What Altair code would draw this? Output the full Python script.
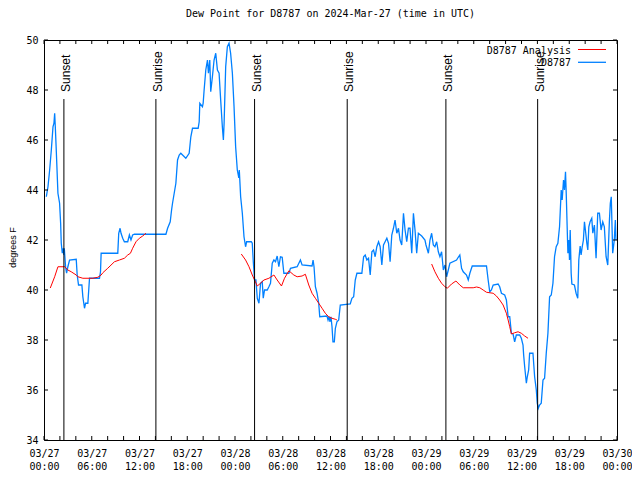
import altair as alt
import pandas as pd

MONO = "DejaVu Sans Mono"
SANS = "Liberation Sans"

# Observed dew point for D8787: hours since 2024-03-27 00:00 UTC, degrees F
obs_hours = [
    0.29, 0.5, 0.71, 0.92, 1.13, 1.25, 1.34, 1.42, 1.54, 1.75, 1.96, 2.09, 2.17, 2.3, 2.42, 2.5, 2.55, 2.71, 2.84, 3.0,
    3.21, 4.05, 4.17, 4.34, 4.76, 4.88, 5.09, 5.22, 5.51, 5.72, 6.97, 7.1, 7.18, 9.27, 9.39, 9.56, 9.68, 9.89, 10.1, 10.52,
    10.73, 10.93, 11.14, 11.36, 15.32, 15.53, 15.86, 16.03, 16.15, 16.57, 16.78, 16.99, 17.19, 17.82, 18.24, 18.45, 18.66, 19.37, 19.5, 19.58,
    19.91, 20.0, 20.12, 20.33, 20.54, 20.66, 20.83, 20.95, 21.16, 21.37, 21.58, 21.79, 22.0, 22.2, 22.41, 22.54, 22.63, 22.83, 23.04, 23.25,
    23.45, 23.67, 23.88, 24.08, 24.29, 24.48, 24.54, 24.71, 24.92, 25.13, 25.33, 25.46, 26.05, 26.17, 26.3, 26.46, 26.63, 26.8, 27.01, 27.21,
    27.42, 27.55, 27.71, 28.05, 28.26, 28.46, 28.68, 28.89, 29.09, 29.3, 29.51, 29.71, 29.93, 30.14, 30.77, 30.97, 31.81, 32.22, 32.43, 33.68,
    33.81, 33.93, 34.1, 34.31, 34.52, 34.65, 35.56, 35.69, 35.81, 35.94, 36.06, 36.19, 36.31, 36.48, 36.61, 36.81, 37.03, 37.23, 38.48, 38.69,
    38.91, 39.11, 39.32, 39.94, 40.16, 40.36, 40.57, 40.78, 40.99, 41.2, 41.41, 41.61, 41.82, 42.04, 42.24, 42.45, 42.66, 42.86, 43.08, 43.29,
    43.49, 43.7, 43.91, 44.11, 44.33, 44.54, 44.74, 44.95, 45.17, 45.37, 45.58, 45.79, 45.99, 46.21, 46.42, 46.62, 46.83, 47.04, 47.46, 47.87,
    48.0, 48.3, 48.5, 48.71, 48.92, 49.12, 49.34, 49.55, 49.75, 49.96, 50.18, 50.38, 50.59, 50.8, 51.0, 51.84, 52.05, 52.25, 52.47, 52.68,
    53.09, 53.31, 53.51, 53.81, 55.6, 55.81, 56.01, 56.22, 56.44, 57.06, 57.26, 57.48, 57.89, 58.1, 58.32, 58.52, 58.73, 58.94, 59.14, 59.35,
    59.77, 59.98, 60.19, 60.27, 60.4, 60.61, 60.73, 60.9, 61.02, 61.44, 61.65, 61.86, 61.98, 62.11, 62.27, 62.48, 62.7, 62.9, 63.11, 63.32,
    63.53, 63.74, 63.95, 64.15, 64.36, 64.57, 64.78, 64.99, 65.11, 65.28, 65.4, 65.53, 65.62, 65.83, 65.95, 66.03, 66.12, 66.24, 66.33, 66.65,
    66.86, 67.07, 67.2, 67.37, 67.49, 67.62, 67.78, 67.91, 68.03, 68.21, 68.33, 68.46, 68.62, 68.83, 68.96, 69.16, 69.37, 69.58, 69.79, 70.0,
    70.21, 70.41, 70.63, 70.84, 71.04, 71.16, 71.28, 71.46, 71.66, 71.79, 71.87,
]
obs_dewpoint = [
    43.73, 44.13, 44.8, 45.6, 46.53, 46.67, 47.07, 46.53, 45.6, 43.87, 43.47, 42.67, 41.87, 41.47, 41.67, 41.4, 41.67, 40.93, 40.67, 40.93,
    41.2, 41.23, 40.6, 40.2, 40.2, 39.73, 39.27, 39.47, 39.47, 40.47, 40.47, 40.73, 41.47, 41.47, 42.27, 42.47, 42.27, 42.07, 41.93, 41.93,
    42.2, 42.0, 42.2, 42.23, 42.23, 42.47, 42.73, 43.2, 43.47, 44.27, 45.2, 45.4, 45.47, 45.27, 45.47, 46.13, 46.47, 46.47, 46.73, 47.47,
    47.33, 47.47, 48.0, 48.8, 49.2, 48.67, 49.2, 47.93, 48.53, 49.2, 49.47, 48.8, 48.67, 47.6, 46.53, 46.0, 46.67, 48.93, 49.73, 49.87,
    49.47, 48.67, 47.33, 45.73, 44.8, 44.48, 44.8, 43.73, 43.07, 42.13, 41.73, 41.93, 41.93, 41.87, 41.13, 40.4, 40.4, 39.67, 39.47, 40.27,
    40.33, 39.67, 40.0, 40.0, 40.13, 40.27, 41.07, 41.2, 41.13, 41.36, 40.93, 41.33, 41.31, 40.67, 40.67, 40.87, 40.93, 41.2, 41.0, 40.96,
    41.2, 40.93, 40.13, 39.87, 39.47, 38.93, 38.96, 38.8, 38.93, 38.73, 38.93, 38.53, 37.93, 37.93, 38.47, 38.73, 38.8, 39.4, 39.44, 39.67,
    39.73, 40.4, 40.67, 40.67, 41.33, 41.4, 41.2, 41.27, 40.6, 41.53, 41.6, 41.33, 41.73, 41.93, 41.73, 41.0, 41.8, 41.93, 42.07, 41.87,
    41.13, 42.2, 42.47, 42.8, 42.27, 42.47, 42.0, 41.8, 43.07, 42.4, 41.93, 42.47, 42.47, 41.47, 43.07, 42.4, 41.47, 42.27, 42.16, 42.0,
    41.8, 41.47, 42.0, 42.27, 41.8, 41.73, 41.93, 41.53, 41.33, 41.53, 40.8, 41.0, 40.53, 40.8, 41.07, 41.2, 41.31, 41.4, 40.87, 40.73,
    40.6, 40.4, 40.67, 40.96, 40.96, 40.4, 39.93, 40.0, 40.2, 40.24, 40.13, 39.87, 39.8, 39.6, 38.93, 38.93, 38.27, 38.24, 37.93, 38.2,
    38.2, 38.07, 37.8, 37.4, 36.93, 36.27, 36.53, 36.8, 37.47, 37.47, 36.53, 36.0, 35.47, 35.27, 35.4, 35.47, 36.4, 36.47, 37.47, 38.27,
    39.73, 39.8, 40.27, 41.33, 41.73, 41.87, 42.53, 44.0, 43.6, 44.4, 44.0, 44.73, 43.87, 41.47, 42.0, 41.2, 42.4, 40.67, 40.24, 40.2,
    39.87, 39.67, 41.2, 41.76, 41.4, 41.71, 42.0, 42.73, 42.4, 41.87, 41.6, 42.53, 42.73, 42.87, 42.27, 42.6, 41.27, 43.07, 43.07, 42.4,
    42.73, 42.53, 41.33, 41.0, 42.73, 43.47, 43.73, 41.47, 42.0, 42.8, 42.0,
]

# D8787 Analysis, three separate runs
ana1_hours = [0.79, 1.34, 1.75, 2.59, 3.0, 3.42, 4.05, 4.26, 4.88, 6.13, 6.76, 7.18, 7.39, 8.01, 8.85, 9.48, 10.1, 10.52, 10.86, 11.14, 11.56, 11.98, 12.4, 12.81]
ana1_dewpoint = [40.08, 40.53, 40.93, 40.93, 40.8, 40.73, 40.6, 40.53, 40.47, 40.47, 40.51, 40.6, 40.69, 40.87, 41.13, 41.2, 41.27, 41.4, 41.47, 41.67, 41.93, 42.07, 42.16, 42.27]
ana2_hours = [24.79, 25.33, 25.76, 26.17, 26.46, 26.8, 27.21, 27.64, 28.26, 28.89, 29.3, 29.84, 30.22, 30.77, 31.39, 31.81, 32.43, 32.84, 33.27, 33.68, 34.1, 34.52, 34.94, 35.35, 35.77, 36.19, 36.6, 36.81]
ana2_dewpoint = [41.44, 41.2, 40.93, 40.6, 40.4, 40.16, 40.27, 40.4, 40.47, 40.6, 40.4, 40.16, 40.47, 40.77, 40.6, 40.53, 40.56, 40.63, 40.2, 39.87, 39.67, 39.47, 39.27, 39.07, 38.93, 38.87, 38.83, 38.8]
ana3_hours = [48.71, 49.12, 49.55, 49.96, 50.38, 50.68, 51.21, 51.76, 52.25, 52.68, 53.93, 54.35, 54.76, 55.18, 55.6, 56.01, 56.44, 56.85, 57.26, 57.69, 58.1, 58.32, 58.52, 58.73, 59.14, 59.57, 59.98, 60.4, 60.82]
ana3_dewpoint = [41.04, 40.73, 40.47, 40.27, 40.13, 40.07, 40.24, 40.36, 40.2, 40.09, 40.09, 40.12, 40.09, 40.0, 39.91, 39.89, 39.87, 39.76, 39.6, 39.4, 39.07, 38.8, 38.53, 38.24, 38.29, 38.33, 38.27, 38.16, 38.07]

sun_hours = [2.5, 14.06, 26.46, 38.1, 50.5, 62.03]
sun_labels = ["Sunset", "Sunrise", "Sunset", "Sunrise", "Sunset", "Sunrise"]

x_tick_hours = list(range(0, 73, 2))
x_label_hours = list(range(0, 73, 6))
y_ticks = list(range(34, 51, 2))

obs_df = pd.DataFrame({"hour": obs_hours, "dew": obs_dewpoint})
ana_df = pd.concat([
    pd.DataFrame({"hour": ana1_hours, "dew": ana1_dewpoint, "seg": 1}),
    pd.DataFrame({"hour": ana2_hours, "dew": ana2_dewpoint, "seg": 2}),
    pd.DataFrame({"hour": ana3_hours, "dew": ana3_dewpoint, "seg": 3}),
])
sun_df = pd.DataFrame({"hour": sun_hours, "label": sun_labels})
xt_df = pd.DataFrame({"hour": x_tick_hours})
yt_df = pd.DataFrame({"dew": y_ticks})

W, H = 573, 400
xscale = alt.Scale(domain=[0, 72], nice=False, zero=False)
yscale = alt.Scale(domain=[34, 50], nice=False, zero=False)

label_expr = ("['03/' + (27 + floor(datum.value / 24)), "
              "(datum.value % 24 < 10 ? '0' : '') + (datum.value % 24) + ':00']")

x_enc = alt.X("hour:Q", scale=xscale, title=None,
              axis=alt.Axis(values=x_label_hours, labelExpr=label_expr, ticks=False, domain=False,
                            grid=False, labelFont=MONO, labelFontSize=10, labelColor="black",
                            labelPadding=8, labelLineHeight=13, labelBaseline="top",
                            labelFlush=False, labelOverlap=False))
y_enc = alt.Y("dew:Q", scale=yscale, title="degrees F",
              axis=alt.Axis(values=y_ticks, ticks=False, domain=False, grid=False,
                            labelFont=MONO, labelFontSize=10, labelColor="black", labelPadding=6,
                            titleFont=SANS, titleFontSize=9, titleFontWeight="normal", titleColor="black",
                            titleAngle=270, titleX=-32, titleY=207, titleAlign="center",
                            titleBaseline="middle"))

obs_line = alt.Chart(obs_df).mark_line(color="#0080ff", strokeWidth=1.3).encode(x=x_enc, y=y_enc)
ana_line = alt.Chart(ana_df).mark_line(color="#ff0000", strokeWidth=1).encode(
    x=alt.X("hour:Q", scale=xscale), y=alt.Y("dew:Q", scale=yscale), detail="seg:N")

sun_rules = alt.Chart(sun_df).mark_rule(color="black", strokeWidth=1).encode(
    x=alt.X("hour:Q", scale=xscale), y=alt.value(59), y2=alt.value(H))
sun_text = alt.Chart(sun_df).mark_text(angle=270, align="left", baseline="alphabetic", dy=6,
                                       font=SANS, fontSize=12, color="black").encode(
    x=alt.X("hour:Q", scale=xscale), y=alt.value(52), text="label:N")

tick_len = 4
xt_bottom = alt.Chart(xt_df).mark_rule(color="black").encode(
    x=alt.X("hour:Q", scale=xscale), y=alt.value(H), y2=alt.value(H - tick_len))
xt_top = alt.Chart(xt_df).mark_rule(color="black").encode(
    x=alt.X("hour:Q", scale=xscale), y=alt.value(0), y2=alt.value(tick_len))
yt_left = alt.Chart(yt_df).mark_rule(color="black").encode(
    y=alt.Y("dew:Q", scale=yscale), x=alt.value(0), x2=alt.value(tick_len))
yt_right = alt.Chart(yt_df).mark_rule(color="black").encode(
    y=alt.Y("dew:Q", scale=yscale), x=alt.value(W - tick_len), x2=alt.value(W))

leg_df = pd.DataFrame({"name": ["D8787 Analysis", "D8787"]})
leg_text1 = alt.Chart(leg_df.iloc[[0]]).mark_text(align="right", baseline="middle", font=MONO,
                                                  fontSize=10, color="black").encode(
    x=alt.value(W - 46), y=alt.value(10.5), text="name:N")
leg_text2 = alt.Chart(leg_df.iloc[[1]]).mark_text(align="right", baseline="middle", font=MONO,
                                                  fontSize=10, color="black").encode(
    x=alt.value(W - 46), y=alt.value(23), text="name:N")
leg_red = alt.Chart(leg_df.iloc[[0]]).mark_rule(color="#ff0000", strokeWidth=1).encode(
    x=alt.value(W - 39), x2=alt.value(W - 11), y=alt.value(9.5))
leg_blue = alt.Chart(leg_df.iloc[[1]]).mark_rule(color="#0080ff", strokeWidth=1.3).encode(
    x=alt.value(W - 39), x2=alt.value(W - 11), y=alt.value(22.3))

chart = alt.layer(
    obs_line, ana_line, sun_rules, sun_text,
    xt_bottom, xt_top, yt_left, yt_right,
    leg_text1, leg_text2, leg_red, leg_blue,
).properties(
    width=W, height=H,
    title=alt.TitleParams("Dew Point for D8787 on 2024-Mar-27 (time in UTC)", font=MONO, fontSize=10,
                          fontWeight="normal", color="black", anchor="middle", offset=16),
    autosize=alt.AutoSizeParams(type="none"),
    padding={"left": 36, "top": 32, "right": 15, "bottom": 30},
    background="white",
).configure_view(stroke="black", strokeWidth=1)

chart.save("out.html", embed_options={"renderer": "svg", "actions": False})
